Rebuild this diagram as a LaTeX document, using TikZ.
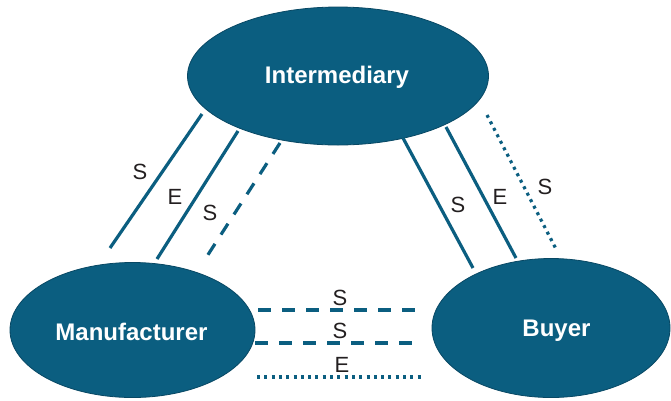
\documentclass[tikz,border=0pt]{standalone}
\usepackage{fontspec}
\setmainfont{Liberation Sans}
\usetikzlibrary{shapes.geometric}
\definecolor{teal}{RGB}{11,94,128}
\definecolor{tealdark}{RGB}{8,72,100}
\definecolor{lbl}{RGB}{35,31,32}
\tikzset{
  party/.style={ellipse, fill=teal, draw=tealdark, line width=0.8pt, inner sep=0pt},
  partytext/.style={anchor=base, inner sep=0pt, text=white, font=\fontsize{24}{28}\selectfont\bfseries},
  link/.style={draw=teal, line width=3.2pt},
  dashlink/.style={link, dash pattern=on 13pt off 11pt},
  dotlink/.style={link, dash pattern=on 3pt off 4.3pt},
  lab/.style={text=lbl, font=\fontsize{22}{26}\selectfont, inner sep=0pt}
}
\begin{document}
\begin{tikzpicture}[x=1pt,y=-1pt]
\useasboundingbox (0,0) rectangle (671,400);
\node[party, minimum width=301pt, minimum height=138pt] (inter) at (338,76) {};
\node[party, minimum width=245pt, minimum height=135pt] (manu) at (132.5,330) {};
\node[party, minimum width=238pt, minimum height=139pt] (buyer) at (551,328) {};
\node[partytext] (intert) at (337,83.5) {Intermediary};
\node[partytext] (manut) at (131.5,340.5) {Manufacturer};
\node[partytext] (buyert) at (556.5,336.7) {Buyer};
% left group
\coordinate (l1a) at (110,248); \coordinate (l1b) at (202,114);
\coordinate (l2a) at (157,259); \coordinate (l2b) at (238,131);
\coordinate (l3a) at (202,264); \coordinate (l3b) at (280,143);
\draw[link] (l1a) -- (l1b);
\draw[link] (l2a) -- (l2b);
\draw[dashlink] (l3b) -- (l3a);
\node[lab] (ls1) at (140,172) {S};
\node[lab] (le1) at (175,197) {E};
\node[lab] (ls2) at (210,213) {S};
% right group
\coordinate (r1a) at (403,138); \coordinate (r1b) at (473,268);
\coordinate (r2a) at (446,127); \coordinate (r2b) at (516,258);
\coordinate (r3a) at (487,115); \coordinate (r3b) at (556,249);
\draw[link] (r1a) -- (r1b);
\draw[link] (r2a) -- (r2b);
\draw[dotlink] (r3a) -- (r3b);
\node[lab] (rs1) at (458,205) {S};
\node[lab] (re1) at (500,197) {E};
\node[lab] (rs2) at (545,187) {S};
% bottom group
\coordinate (b1a) at (258,310); \coordinate (b1b) at (424,310);
\coordinate (b2a) at (255,343); \coordinate (b2b) at (421,343);
\coordinate (b3a) at (257,377); \coordinate (b3b) at (423,377);
\draw[dashlink] (b1a) -- (b1b);
\draw[dashlink] (b2a) -- (b2b);
\draw[dotlink] (b3a) -- (b3b);
\node[lab] (bs1) at (340,298) {S};
\node[lab] (bs2) at (340,331) {S};
\node[lab] (be1) at (342,365) {E};
\end{tikzpicture}
\end{document}
